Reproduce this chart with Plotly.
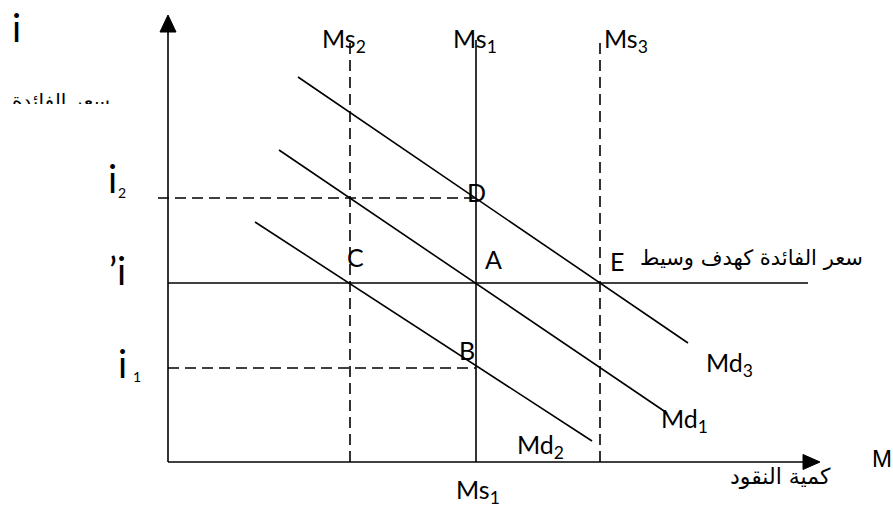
import plotly.graph_objects as go

# ---- diagram values (x = quantity of money, y = interest rate; diagram units) ----
ms_names = ["Ms<sub>2</sub>", "Ms<sub>1</sub>", "Ms<sub>3</sub>"]
ms_levels = [182, 308, 432]
ms_dashed = [True, False, True]
ms_top = 422

rate_levels = [94, 179, 264]          # i1, i', i2

md_names = ["Md<sub>2</sub>", "Md<sub>1</sub>", "Md<sub>3</sub>"]
md_x0 = [87, 111, 130]
md_y0 = [240, 312, 385]
md_x1 = [424, 499, 520]
md_y1 = [21, 49, 119]

point_names = ["A", "B", "C", "D", "E"]

x_axis_len = 652
y_axis_len = 447
target_line_end = 640

W, H = 893, 506
OX, OY = 168, 462  # pixel position of the origin


def P(px, py):
    """pixel position -> diagram coordinates"""
    return px - OX, OY - py


LINE = dict(color="black", width=1.6)
DASH = dict(color="black", width=1.6, dash="11px,6px")
LAT = "Lato, 'Open Sans', sans-serif"
AR = "'DejaVu Sans', sans-serif"

fig = go.Figure()

# axes
fig.add_trace(go.Scatter(x=[0, 0], y=[0, y_axis_len - 14], mode="lines", line=LINE, hoverinfo="skip"))
fig.add_trace(go.Scatter(x=[0, x_axis_len - 14], y=[0, 0], mode="lines", line=LINE, hoverinfo="skip"))
fig.add_shape(type="path", xref="x", yref="y",
              path=f"M -8,{y_axis_len-17} L 8,{y_axis_len-17} L 0,{y_axis_len} Z",
              fillcolor="black", line=dict(color="black", width=1))
fig.add_shape(type="path", xref="x", yref="y",
              path=f"M {x_axis_len-17},-7.5 L {x_axis_len-17},7.5 L {x_axis_len},0 Z",
              fillcolor="black", line=dict(color="black", width=1))

# money supply lines
for lvl, dashed in zip(ms_levels, ms_dashed):
    fig.add_trace(go.Scatter(x=[lvl, lvl], y=[0, ms_top], mode="lines",
                             line=DASH if dashed else LINE, hoverinfo="skip"))

# interest rate lines
i1, i0, i2 = rate_levels
fig.add_trace(go.Scatter(x=[-10, ms_levels[1]], y=[i2, i2], mode="lines", line=DASH, hoverinfo="skip"))
fig.add_trace(go.Scatter(x=[0, target_line_end], y=[i0, i0], mode="lines", line=LINE, hoverinfo="skip"))
fig.add_trace(go.Scatter(x=[0, ms_levels[1]], y=[i1, i1], mode="lines", line=DASH, hoverinfo="skip"))

# money demand lines
for xa, ya, xb, yb in zip(md_x0, md_y0, md_x1, md_y1):
    fig.add_trace(go.Scatter(x=[xa, xb], y=[ya, yb], mode="lines", line=LINE, hoverinfo="skip"))

# clipped y-axis caption (bottom half hidden, as in the source)
cx, cy = P(61, 103)
fig.add_trace(go.Scatter(x=[cx], y=[cy], mode="text", text=["سعر الفائدة"],
                         textposition="middle center",
                         textfont=dict(family=AR, size=20, color="black"), hoverinfo="skip"))
x0c, y0c = P(0, 104)
x1c, y1c = P(150, 135)
fig.add_shape(type="rect", xref="x", yref="y", x0=x0c, x1=x1c, y0=y1c, y1=y0c,
              fillcolor="white", line=dict(width=0), layer="above")


def ann(text, px, py, size, family=LAT):
    x, y = P(px, py)
    fig.add_annotation(x=x, y=y, xref="x", yref="y", text=text, showarrow=False,
                       font=dict(family=family, size=size, color="black"),
                       xanchor="center", yanchor="middle")


# top and bottom supply labels
ann(ms_names[0], 344, 40, 25)
ann(ms_names[1], 475, 40, 25)
ann(ms_names[2], 626, 40, 25)
ann(ms_names[1], 478, 491, 25)

# demand labels
ann(md_names[2], 729, 364, 25)
ann(md_names[1], 684, 420, 25)
ann(md_names[0], 540, 446, 25)

# points
ann(point_names[0], 493, 259, 25)
ann(point_names[1], 467, 350, 25)
ann(point_names[2], 355, 257, 25)
ann(point_names[3], 476, 192, 25)
ann(point_names[4], 617, 261, 25)

# y-axis labels
ann("i", 16, 27, 38)
ann("i", 112, 178, 38)
ann("2", 122, 192, 14)
ann("’i", 117, 270, 38)
ann("i", 122, 363, 38)
ann("1", 137, 376, 14)

# x-axis labels
ann("M", 882, 458, 24, family="'Liberation Sans', Arial, sans-serif")
ann("كمية النقود", 780, 476, 22, family=AR)
ann("سعر الفائدة كهدف وسيط", 751, 258, 21, family=AR)

fig.update_layout(
    width=W, height=H, margin=dict(l=0, r=0, t=0, b=0),
    paper_bgcolor="white", plot_bgcolor="white", showlegend=False,
    xaxis=dict(range=[-OX, W - OX], visible=False, fixedrange=True),
    yaxis=dict(range=[OY - H, OY], visible=False, fixedrange=True),
)
fig.write_html("out.html", config={"displayModeBar": False},
               post_script="document.body.style.margin='0';document.body.style.overflow='hidden';")
